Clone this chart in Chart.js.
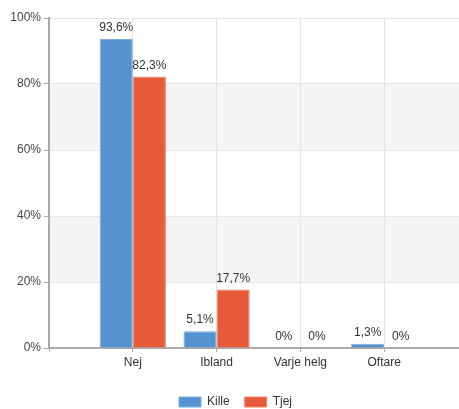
<!DOCTYPE html>
<html>
<head>
<meta charset="utf-8">
<script src="https://cdn.jsdelivr.net/npm/chart.js@4/dist/chart.umd.min.js"></script>
<style>
  html, body { margin: 0; padding: 0; overflow: hidden; background: #fff; }
  #wrap { width: 471px; height: 409px; }
</style>
</head>
<body>
<div id="wrap"><canvas id="chart"></canvas></div>
<script>
// data
var categories = ['', 'Nej', 'Ibland', 'Varje helg', 'Oftare', ''];
var kille = [null, 93.6, 5.1, 0, 1.3, null];
var tjej = [null, 82.3, 17.7, 0, 0, null];
var seriesNames = ['Kille', 'Tjej'];
var bandRanges = [[20, 40], [60, 80]];

var FONT = "'Liberation Sans', Arial, sans-serif";

// grey bands behind the grid
var bands = {
    id: 'bands',
    beforeDraw: function (chart) {
        var ctx = chart.ctx, y = chart.scales.y, area = chart.chartArea;
        ctx.save();
        ctx.fillStyle = '#f5f5f5';
        bandRanges.forEach(function (r) {
            var top = y.getPixelForValue(r[1]);
            var bottom = y.getPixelForValue(r[0]);
            ctx.fillRect(area.left, top, area.right - area.left, bottom - top);
        });
        ctx.restore();
    }
};

// value labels above the bars
var valueLabels = {
    id: 'valueLabels',
    afterDatasetsDraw: function (chart) {
        var ctx = chart.ctx;
        ctx.save();
        ctx.font = '12px ' + FONT;
        ctx.fillStyle = '#333';
        ctx.textAlign = 'center';
        ctx.textBaseline = 'bottom';
        chart.data.datasets.forEach(function (ds, i) {
            chart.getDatasetMeta(i).data.forEach(function (bar, j) {
                var v = ds.data[j];
                if (v === null || v === undefined) return;
                var txt = String(v).replace('.', ',') + '%';
                ctx.fillText(txt, bar.x, bar.y - 5);
            });
        });
        ctx.restore();
    }
};

function makeChart(id, data) {
    try {
        var ctx = document.getElementById(id);
        if (ctx) {
            var myChart = new Chart(ctx, {
                type: 'bar',
                data: data,
                plugins: [bands, valueLabels],
                options: {
                    responsive: true,
                    maintainAspectRatio: false,
                    animation: false,
                    layout: { padding: { top: 18, left: 0, right: 0, bottom: -9 } },
                    categoryPercentage: 0.79,
                    barPercentage: 1,
                    scales: {
                        x: {
                            offset: false,
                            grid: { offset: false, color: '#e6e6e6', tickColor: '#aaa', tickLength: 4 },
                            border: { color: '#aaa', width: 2 },
                            ticks: { color: '#333', font: { family: FONT, size: 12 }, padding: 3, maxRotation: 0, autoSkip: false },
                            afterFit: function (s) { s.height = 33; }
                        },
                        y: {
                            min: 0,
                            max: 100,
                            grid: { color: '#e6e6e6', tickColor: '#aaa', tickLength: 5 },
                            border: { color: '#aaa', width: 2 },
                            ticks: {
                                stepSize: 20,
                                color: '#444',
                                padding: 3,
                                font: { family: FONT, size: 12 },
                                callback: function (v) { return v + '%'; }
                            },
                            afterFit: function (s) { s.width = 49; }
                        }
                    },
                    plugins: {
                        legend: {
                            position: 'bottom',
                            labels: {
                                boxWidth: 22,
                                boxHeight: 10,
                                padding: 15,
                                color: '#333',
                                font: { family: FONT, size: 12 }
                            }
                        },
                        tooltip: { enabled: false }
                    }
                }
            });
        }
    } catch (error) {
        console.log(error);
    }
}

makeChart('chart', {
    labels: categories,
    datasets: [
        { label: seriesNames[0], data: kille, backgroundColor: '#5692d0', borderColor: '#7aaee0', borderWidth: 1 },
        { label: seriesNames[1], data: tjej, backgroundColor: '#e65c3b', borderColor: '#f0836a', borderWidth: 1 }
    ]
});
</script>
</body>
</html>
